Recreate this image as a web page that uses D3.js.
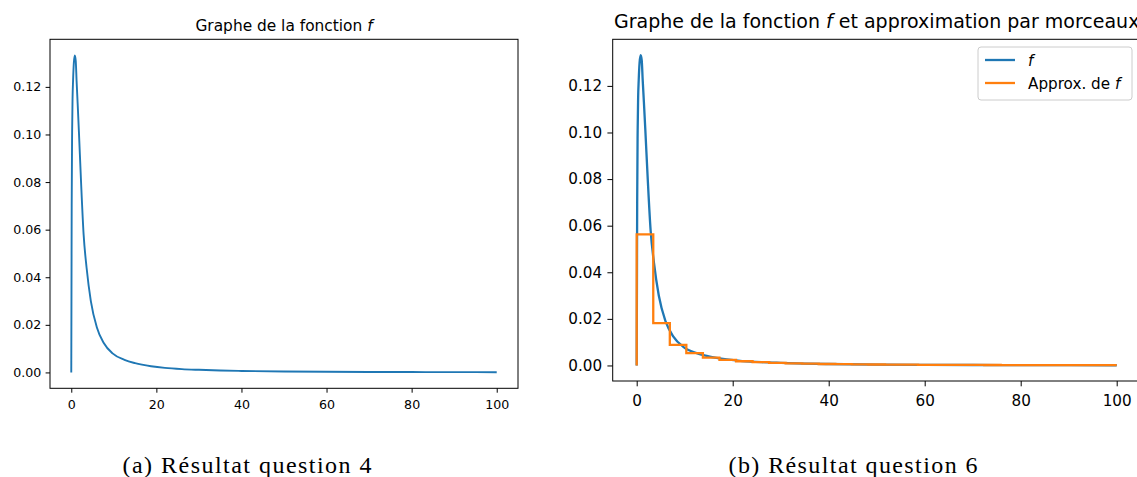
<!DOCTYPE html>
<html lang="fr">
<head>
<meta charset="UTF-8">
<title>Graphe de la fonction f</title>
<script src="https://cdnjs.cloudflare.com/ajax/libs/d3/7.8.5/d3.min.js"></script>
<style>
  body { margin: 0; background: #fff; }
  svg { display: block; }
  text { font-family: "DejaVu Sans", sans-serif; fill: #000; }
  .caption { font-family: "Liberation Serif", serif; }
</style>
</head>
<body>
<svg id="chart" width="1137" height="477"></svg>
<script>
// values
var fX = [0, 0.05, 0.1, 0.2, 0.3, 0.42, 0.6, 0.83, 1.05, 1.25, 1.5, 1.8, 2.3, 2.9, 3.6, 4.6, 6.0, 7.6, 9.7, 12.5, 15, 18.75, 22, 26, 30, 35, 40, 50, 60, 70, 80, 90, 100];
var fY = [0, 0.035, 0.07, 0.101, 0.115, 0.1225, 0.130, 0.1332, 0.131, 0.1225, 0.113, 0.101, 0.080, 0.058, 0.044, 0.030, 0.019, 0.0125, 0.0080, 0.0053, 0.0039, 0.0026, 0.0019, 0.0014, 0.0011, 0.0008, 0.00062, 0.0004, 0.00028, 0.0002, 0.00016, 0.00012, 0.0001];

var stepEdges = [0, 3.45, 6.9, 10.34, 13.79, 17.24, 20.69, 24.14, 27.59, 31.03, 34.48, 37.93, 41.38, 44.83, 48.28, 51.72, 55.17, 58.62, 62.07, 65.52, 68.97, 72.41, 75.86, 79.31, 82.76, 86.21, 89.66, 93.1, 96.55, 100];
var stepValues = [0.0563, 0.0182, 0.0088, 0.0053, 0.0034, 0.0024, 0.0018, 0.0014, 0.0011, 0.0009, 0.00075, 0.00063, 0.00054, 0.00047, 0.00041, 0.00036, 0.00032, 0.00029, 0.00026, 0.00024, 0.00022, 0.0002, 0.00018, 0.00017, 0.00016, 0.00015, 0.00014, 0.00013, 0.00012];

var xTicks = [0, 20, 40, 60, 80, 100];
var yTicks = [0, 0.02, 0.04, 0.06, 0.08, 0.10, 0.12];
var captions = ["(a) Résultat question 4", "(b) Résultat question 6"];

var blue = "#1f77b4", orange = "#ff7f0e";
var svg = d3.select("#chart");

var fData = fX.map(function(x, i) { return {x: x, y: fY[i]}; });

// step points: start at (0,0), then each interval value, closing at x=100
var stepData = [{x: 0, y: 0}];
stepValues.forEach(function(v, i) { stepData.push({x: stepEdges[i], y: v}); });
stepData.push({x: stepEdges[stepEdges.length - 1], y: stepValues[stepValues.length - 1]});

function panel(o) {
    var g = svg.append("g");

    var x = d3.scaleLinear().domain([-5, 105]).range([o.left, o.right]);
    var y = d3.scaleLinear().domain([-0.00667, 0.14]).range([o.bottom, o.top]);

    var line = d3.line()
        .x(function(d) { return x(d.x); })
        .y(function(d) { return y(d.y); });

    g.append("path")
        .datum(fData)
        .attr("fill", "none")
        .attr("stroke", blue)
        .attr("stroke-width", o.lw)
        .attr("d", line.curve(d3.curveMonotoneX));

    if (o.steps) {
        g.append("path")
            .datum(stepData)
            .attr("fill", "none")
            .attr("stroke", orange)
            .attr("stroke-width", o.lw)
            .attr("d", d3.line()
                .x(function(d) { return x(d.x); })
                .y(function(d) { return y(d.y); })
                .curve(d3.curveStepAfter));
    }

    var xAxis = d3.axisBottom(x).tickValues(xTicks).tickSize(o.tick).tickPadding(o.tick + o.xpad);
    var yAxis = d3.axisLeft(y).tickValues(yTicks).tickSize(o.tick).tickPadding(o.tick)
        .tickFormat(d3.format(".2f"));

    var ax = g.append("g").attr("transform", "translate(0," + o.bottom + ")").call(xAxis);
    var ay = g.append("g").attr("transform", "translate(" + o.left + ",0)").call(yAxis);
    [ax, ay].forEach(function(a) {
        a.select(".domain").remove();
        a.selectAll("line").attr("stroke", "#000").attr("stroke-width", 1);
        a.selectAll("text").attr("font-family", "DejaVu Sans").attr("font-size", o.fs).attr("fill", "#000");
    });

    g.append("rect")
        .attr("x", o.left).attr("y", o.top)
        .attr("width", o.right - o.left).attr("height", o.bottom - o.top)
        .attr("fill", "none").attr("stroke", "#000").attr("stroke-width", 1);

    var t = g.append("text")
        .attr("x", o.titleX).attr("y", o.titleY)
        .attr("text-anchor", o.titleAnchor)
        .attr("font-size", o.fsTitle);
    o.title.forEach(function(p) {
        t.append("tspan").attr("font-style", p[1] ? "italic" : "normal").text(p[0]);
    });

    g.append("text")
        .attr("class", "caption")
        .attr("x", o.capX).attr("y", 473)
        .attr("text-anchor", "middle")
        .attr("font-size", 24)
        .attr("textLength", 249)
        .attr("lengthAdjust", "spacing")
        .text(o.caption);

    return {x: x, y: y, g: g};
}

panel({
    left: 50, right: 518, top: 39.3, bottom: 388.3,
    lw: 1.9, tick: 4.4, xpad: 2.5, fs: 12.6, fsTitle: 15.4,
    title: [["Graphe de la fonction ", false], ["f", true]],
    titleX: 284, titleY: 31, titleAnchor: "middle",
    caption: captions[0], capX: 247, steps: false
});

var right = panel({
    left: 612.7, right: 1140.7, top: 39.3, bottom: 381,
    lw: 2.3, tick: 5.3, xpad: 3.5, fs: 15.2, fsTitle: 19,
    title: [["Graphe de la fonction ", false], ["f", true], [" et approximation par morceaux", false]],
    titleX: 614, titleY: 28, titleAnchor: "start",
    caption: captions[1], capX: 853, steps: true
});

// legend
var lg = right.g.append("g");
lg.append("rect")
    .attr("x", 978).attr("y", 47).attr("width", 154).attr("height", 53)
    .attr("rx", 3).attr("fill", "#fff").attr("fill-opacity", 0.8)
    .attr("stroke", "#ccc").attr("stroke-width", 1);
var items = [
    {color: blue, parts: [["f", true]]},
    {color: orange, parts: [["Approx. de ", false], ["f", true]]}
];
items.forEach(function(it, i) {
    var yy = 60 + i * 23;
    lg.append("line").attr("x1", 985).attr("x2", 1015).attr("y1", yy).attr("y2", yy)
        .attr("stroke", it.color).attr("stroke-width", 2.3);
    var t = lg.append("text").attr("x", 1028).attr("y", yy + 5.5).attr("font-size", 15.2);
    it.parts.forEach(function(p) {
        t.append("tspan").attr("font-style", p[1] ? "italic" : "normal").text(p[0]);
    });
});
</script>
</body>
</html>
